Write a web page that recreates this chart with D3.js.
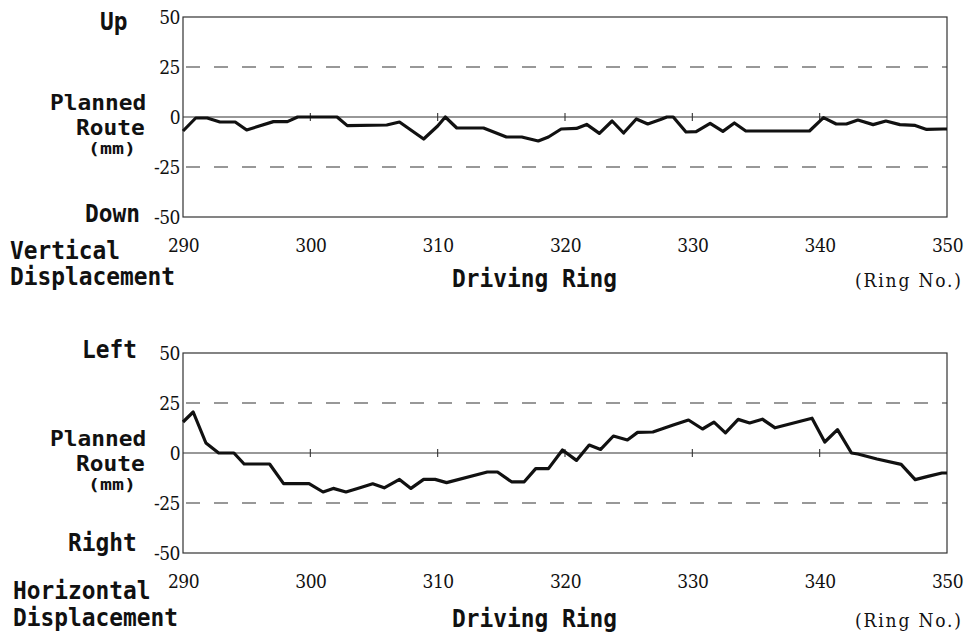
<!DOCTYPE html>
<html>
<head>
<meta charset="utf-8">
<script src="https://cdn.jsdelivr.net/npm/d3@7"></script>
<style>
  body { margin: 0; background: #fff; }
  svg { display: block; }
</style>
</head>
<body>
<div id="chart"></div>
<script>
// ---- data ----
const xTicks = [290, 300, 310, 320, 330, 340, 350]
const yTicks = [50, 25, 0, -25, -50]
const limitLines = [25, -25]

// vertical displacement (mm) per driving ring
const vertRing = [290, 291, 291.9, 292.9, 294.1, 295, 297.1, 298.2, 299, 302.1, 302.9, 306, 307,
  308.9, 310, 310.6, 311.5, 313.6, 315.4, 316.6, 317.9, 318.7, 319.7, 320.9, 321.7, 322.7, 323.7,
  324.6, 325.6, 326.5, 327.5, 328, 328.5, 329.5, 330.3, 331.4, 332.4, 333.3, 334.2, 339.2, 340.3,
  341.3, 342.1, 343, 344.2, 345.2, 346.3, 347.5, 348.4, 349.7, 350]
const vertValue = [-7, -0.5, -0.5, -2.5, -2.5, -6.5, -2.3, -2.3, 0, 0, -4.3, -4, -2.5,
  -11, -4.5, 0, -5.5, -5.5, -10, -10, -12, -10, -6, -5.7, -3.7, -8.2, -2,
  -8, -1, -3.5, -1.3, 0, 0, -7.5, -7.3, -3.2, -7.2, -3, -7, -7, -0.3,
  -3.5, -3.5, -1.5, -3.8, -2, -3.8, -4.2, -6.2, -6, -6]

// horizontal displacement (mm) per driving ring
const horRing = [290, 290.8, 291.8, 292.8, 294, 294.8, 296.8, 297.9, 299.9, 301, 301.8, 302.8,
  303.9, 304.9, 305.8, 307, 307.9, 308.9, 309.8, 310.7, 313.9, 314.7, 315.8, 316.8, 317.7, 318.7,
  319.8, 320.9, 321.9, 322.8, 323.8, 324.9, 325.7, 326.9, 328.5, 329.7, 330.8, 331.7, 332.6,
  333.6, 334.5, 335.5, 336.5, 339.4, 340.4, 341.4, 342.5, 343, 344.5, 346.4, 347.5, 348.5,
  349.6, 350]
const horValue = [15.5, 20.5, 5, 0, 0, -5.5, -5.5, -15.3, -15.3, -19.5, -17.7, -19.5,
  -17.4, -15.4, -17.4, -13.2, -17.7, -13.2, -13.2, -14.8, -9.5, -9.5, -14.4, -14.4, -7.8, -7.8,
  1.5, -3.7, 4, 1.8, 8.5, 6.5, 10.3, 10.5, 14, 16.5, 12, 15.4, 10.1,
  16.8, 15, 16.9, 12.6, 17.4, 5.5, 11.7, 0, -0.5, -3, -5.7, -13.3, -11.7,
  -10, -10]

// ---- layout ----
const width = 970
const height = 641
const plotLeft = 183
const plotRight = 947
const charW = 13.75
const serif = "'DejaVu Serif Condensed', 'DejaVu Serif', 'Liberation Serif', serif"

const panels = [
  {
    top: 17, ring: vertRing, value: vertValue,
    upLabel: 'Up', upX: 100, upDy: 13,
    downLabel: 'Down', downX: 85, downDy: 5,
    title: ['Vertical', 'Displacement'], titleX: 10, titleY: [259, 285],
    axisY: 287,
  },
  {
    top: 353, ring: horRing, value: horValue,
    upLabel: 'Left', upX: 82, upDy: 5,
    downLabel: 'Right', downX: 68, downDy: -2,
    title: ['Horizontal', 'Displacement'], titleX: 13, titleY: [599, 626],
    axisY: 627,
  },
]

const svg = d3
  .select('#chart')
  .append('svg')
  .attr('width', width)
  .attr('height', height)
  .attr('viewBox', `0 0 ${width} ${height}`)

svg.append('rect').attr('width', width).attr('height', height).attr('fill', '#fff')

const x = d3.scaleLinear().domain([290, 350]).range([plotLeft, plotRight])

// monospace gothic-like label, squeezed to the narrow glyph pitch of the scan
function monoText(g, str, px, py, size = 24, pitch = charW) {
  return g
    .append('text')
    .attr('x', px)
    .attr('y', py)
    .attr('font-family', 'DejaVu Sans Mono')
    .attr('font-weight', 'bold')
    .attr('font-size', size)
    .attr('fill', '#111')
    .attr('textLength', str.length * pitch)
    .attr('lengthAdjust', 'spacingAndGlyphs')
    .text(str)
}

panels.forEach((p) => {
  const bottom = p.top + 200
  const y = d3.scaleLinear().domain([-50, 50]).range([bottom, p.top])
  const g = svg.append('g')

  // frame
  g.append('rect')
    .attr('x', plotLeft)
    .attr('y', p.top)
    .attr('width', plotRight - plotLeft)
    .attr('height', bottom - p.top)
    .attr('fill', 'none')
    .attr('stroke', '#333')
    .attr('stroke-width', 1.2)

  // +-25 limit lines
  g.selectAll('.limit')
    .data(limitLines)
    .join('line')
    .attr('x1', plotLeft)
    .attr('x2', plotRight)
    .attr('y1', (d) => y(d))
    .attr('y2', (d) => y(d))
    .attr('stroke', '#333')
    .attr('stroke-width', 1.1)
    .attr('stroke-dasharray', '14,14')
    .attr('stroke-dashoffset', -3)

  // planned route (zero line) with small ring ticks
  g.append('line')
    .attr('x1', plotLeft)
    .attr('x2', plotRight)
    .attr('y1', y(0))
    .attr('y2', y(0))
    .attr('stroke', '#333')
    .attr('stroke-width', 1.1)

  g.selectAll('.zt')
    .data(xTicks.slice(1, -1))
    .join('line')
    .attr('x1', (d) => x(d))
    .attr('x2', (d) => x(d))
    .attr('y1', y(0) - 4)
    .attr('y2', y(0) + 4)
    .attr('stroke', '#333')
    .attr('stroke-width', 1.1)

  // displacement trace
  const pts = p.ring.map((r, i) => [r, p.value[i]])
  g.append('path')
    .datum(pts)
    .attr('d', d3.line().x((d) => x(d[0])).y((d) => y(d[1])))
    .attr('fill', 'none')
    .attr('stroke', '#111')
    .attr('stroke-width', 3.2)
    .attr('stroke-linejoin', 'round')

  // axes: labels only
  const xAxis = g
    .append('g')
    .attr('transform', `translate(0,${bottom})`)
    .call(d3.axisBottom(x).tickValues(xTicks).tickSize(0).tickPadding(22).tickFormat(String))
  const yAxis = g
    .append('g')
    .attr('transform', `translate(${plotLeft},0)`)
    .call(d3.axisLeft(y).tickValues(yTicks).tickSize(0).tickPadding(3).tickFormat(String))
  ;[xAxis, yAxis].forEach((a) => {
    a.select('.domain').remove()
    a.selectAll('text')
      .attr('font-family', serif)
      .attr('font-size', 19)
      .attr('letter-spacing', -0.5)
      .attr('fill', '#111')
  })

  // side labels
  monoText(g, p.upLabel, p.upX, p.top + p.upDy)
  monoText(g, 'Planned', 50, y(0) - 7, 22)
  monoText(g, 'Route', 76, y(0) + 18, 22)
  monoText(g, '(mm)', 88, y(0) + 37, 15, 12)
  monoText(g, p.downLabel, p.downX, bottom + p.downDy)

  // titles
  p.title.forEach((t, i) => monoText(g, t, p.titleX, p.titleY[i]))
  monoText(g, 'Driving Ring', 452, p.axisY)

  g.append('text')
    .attr('x', 855)
    .attr('y', p.axisY)
    .attr('font-family', serif)
    .attr('font-size', 19)
    .attr('fill', '#111')
    .attr('textLength', 106)
    .attr('lengthAdjust', 'spacing')
    .text('(Ring No.)')
})
</script>
</body>
</html>
